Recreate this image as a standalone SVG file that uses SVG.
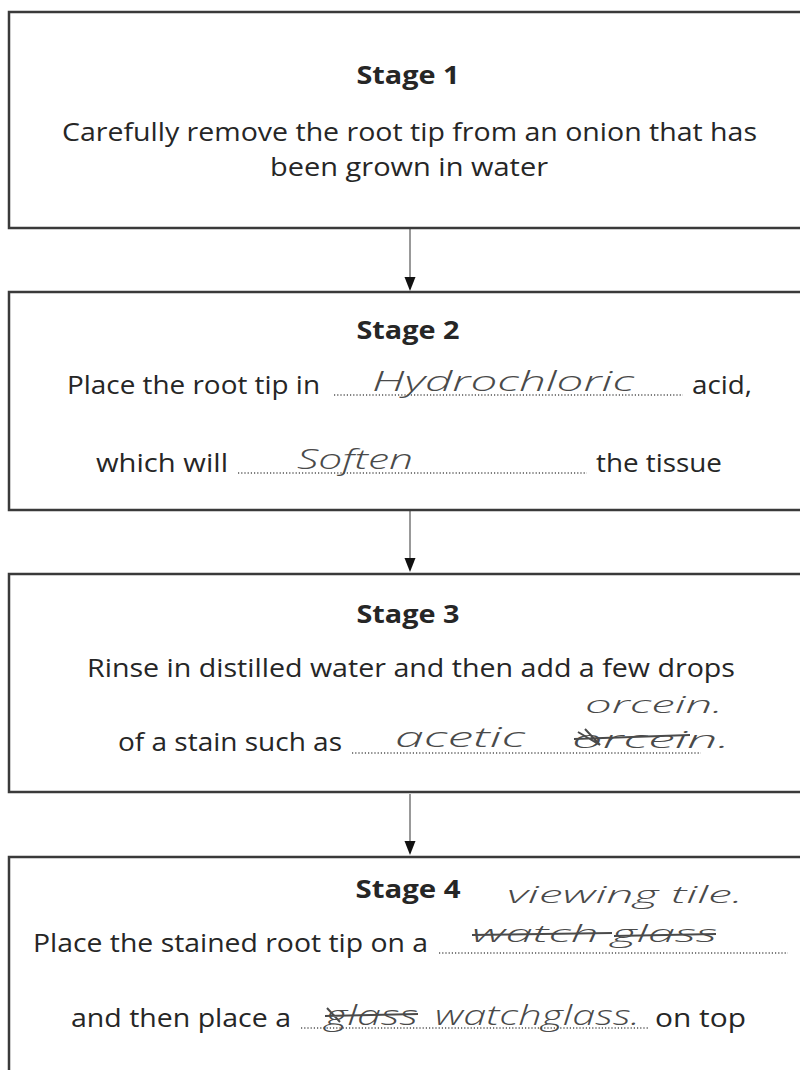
<svg xmlns="http://www.w3.org/2000/svg" width="800" height="1070" viewBox="0 0 800 1070">
<style>
.box{fill:#fff;stroke:#3a3a3a;stroke-width:2.5}
.t{font-family:"Open Sans","Liberation Sans",sans-serif;font-size:26px;fill:#262626}
.h{font-family:"Open Sans","Liberation Sans",sans-serif;font-size:25px;font-weight:bold;fill:#262626}
.hw{font-family:"Open Sans","Liberation Sans",sans-serif;font-size:28px;font-style:italic;font-weight:300;fill:#4a4a4a}
.hs{font-size:24px}
.dots{stroke:#555;stroke-width:1.4;stroke-dasharray:1.2 2}
.conn{stroke:#777;stroke-width:1.5;fill:none}
.head{fill:#111}
.strike{stroke:#4a4a4a;stroke-width:2;fill:none}
</style>
<rect width="800" height="1070" fill="#fff"/>

<g id="connectors">
<line class="conn" x1="410" y1="229" x2="410" y2="278"/>
<path class="head" d="M404.5,277 L415.5,277 L410,291 Z"/>
<line class="conn" x1="410" y1="511" x2="410" y2="559"/>
<path class="head" d="M404.5,558 L415.5,558 L410,572 Z"/>
<line class="conn" x1="410" y1="794" x2="410" y2="842"/>
<path class="head" d="M404.5,841 L415.5,841 L410,855 Z"/>
</g>

<g id="stage1">
<rect class="box" x="9" y="12" width="800" height="216"/>
<text class="h" x="408" y="84" text-anchor="middle" textLength="103" lengthAdjust="spacingAndGlyphs">Stage 1</text>
<text class="t" x="62" y="141" textLength="695" lengthAdjust="spacingAndGlyphs">Carefully remove the root tip from an onion that has</text>
<text class="t" x="270" y="176" textLength="278" lengthAdjust="spacingAndGlyphs">been grown in water</text>
</g>

<g id="stage2">
<rect class="box" x="9" y="292" width="800" height="218"/>
<text class="h" x="408" y="339" text-anchor="middle" textLength="103" lengthAdjust="spacingAndGlyphs">Stage 2</text>
<text class="t" x="67" y="394" textLength="253" lengthAdjust="spacingAndGlyphs">Place the root tip in</text>
<line class="dots" x1="334" y1="395" x2="683" y2="395"/>
<text class="t" x="692" y="394" textLength="60" lengthAdjust="spacingAndGlyphs">acid,</text>
<text class="hw" x="372" y="391" textLength="262" lengthAdjust="spacingAndGlyphs">Hydrochloric</text>
<text class="t" x="96" y="472" textLength="132" lengthAdjust="spacingAndGlyphs">which will</text>
<line class="dots" x1="238" y1="473" x2="587" y2="473"/>
<text class="t" x="596" y="472" textLength="126" lengthAdjust="spacingAndGlyphs">the tissue</text>
<text class="hw" x="297" y="469" textLength="116" lengthAdjust="spacingAndGlyphs">Soften</text>
</g>

<g id="stage3">
<rect class="box" x="9" y="574" width="800" height="218"/>
<text class="h" x="408" y="623" text-anchor="middle" textLength="103" lengthAdjust="spacingAndGlyphs">Stage 3</text>
<text class="t" x="87" y="677" textLength="648" lengthAdjust="spacingAndGlyphs">Rinse in distilled water and then add a few drops</text>
<text class="t" x="118" y="751" textLength="224" lengthAdjust="spacingAndGlyphs">of a stain such as</text>
<line class="dots" x1="352" y1="753" x2="701" y2="753"/>
<text class="hw" x="395" y="747" textLength="130" lengthAdjust="spacingAndGlyphs">acetic</text>
<text class="hw hs" x="585" y="713" textLength="138" lengthAdjust="spacingAndGlyphs">orcein.</text>
<text class="hw hs" x="572" y="748" textLength="158" lengthAdjust="spacingAndGlyphs">orcein.</text>
<path class="strike" d="M574,739 L690,735 M578,732 L600,745 L585,729"/>
</g>

<g id="stage4">
<rect class="box" x="9" y="857" width="800" height="240"/>
<text class="h" x="408" y="898" text-anchor="middle" textLength="105" lengthAdjust="spacingAndGlyphs">Stage 4</text>
<text class="hw hs" x="507" y="903" textLength="236" lengthAdjust="spacingAndGlyphs">viewing tile.</text>
<text class="t" x="33" y="952" textLength="395" lengthAdjust="spacingAndGlyphs">Place the stained root tip on a</text>
<line class="dots" x1="439" y1="953" x2="788" y2="953"/>
<text class="hw hs" x="472" y="942" textLength="245" lengthAdjust="spacingAndGlyphs">watch glass</text>
<path class="strike" d="M472,935 L612,933 M614,936 L716,934"/>
<text class="t" x="71" y="1027" textLength="220" lengthAdjust="spacingAndGlyphs">and then place a</text>
<line class="dots" x1="301" y1="1028" x2="648" y2="1028"/>
<text class="hw" x="325" y="1025" textLength="93" lengthAdjust="spacingAndGlyphs">glass</text>
<path class="strike" d="M325,1016 L418,1014 M327,1008 L340,1022"/>
<text class="hw" x="435" y="1025" textLength="205" lengthAdjust="spacingAndGlyphs">watchglass.</text>
<text class="t" x="655" y="1027" textLength="91" lengthAdjust="spacingAndGlyphs">on top</text>
</g>
</svg>
